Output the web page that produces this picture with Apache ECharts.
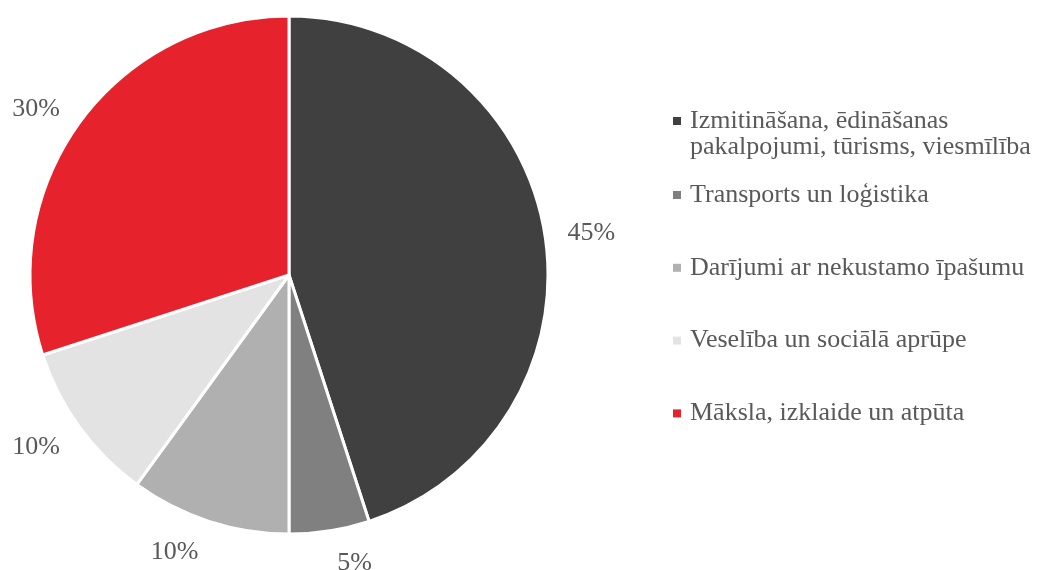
<!DOCTYPE html>
<html>
<head>
<meta charset="utf-8">
<script src="https://cdn.jsdelivr.net/npm/echarts@6/dist/echarts.min.js"></script>
<style>
  html, body { margin: 0; padding: 0; background: #fff; }
  #chart { width: 1042px; height: 570px; }
</style>
</head>
<body>
<div id="chart"></div>
<script>
// nozares un to daļas (%)
const categories = [
  'Izmitināšana, ēdināšanas\npakalpojumi, tūrisms, viesmīlība',
  'Transports un loģistika',
  'Darījumi ar nekustamo īpašumu',
  'Veselība un sociālā aprūpe',
  'Māksla, izklaide un atpūta'
]
const values = [45, 5, 10, 10, 30]
const colors = ['#404040', '#808080', '#b0b0b0', '#e3e3e3', '#e6222c']

const font = 'Liberation Serif, Times New Roman, serif'
const textColor = '#595959'
const pieCenter = [289, 275]

let chart = echarts.init(document.getElementById('chart'))

// kopīgais leģendas teksts
const legendText = {
  color: textColor,
  fontFamily: font,
  fontSize: 26,
  lineHeight: 26,
  padding: [0, 0, 0, 4]
}

chart.setOption({
  animation: false,
  color: colors,
  legend: [
    {
      // pirmais ieraksts ir divās rindās, ikona pie pirmās rindas
      orient: 'vertical',
      left: 673,
      top: 108,
      padding: 0,
      data: [categories[0]],
      icon: 'path://M0,0H8V8H0Z M0,34',
      itemWidth: 8,
      itemHeight: 34,
      itemStyle: { borderWidth: 0 },
      textStyle: legendText,
      selectedMode: false
    },
    {
      orient: 'vertical',
      left: 673,
      top: 182,
      padding: 0,
      data: categories.slice(1),
      icon: 'rect',
      itemWidth: 8,
      itemHeight: 8,
      itemGap: 46.8,
      itemStyle: { borderWidth: 0 },
      textStyle: legendText,
      selectedMode: false
    }
  ],
  series: [
    {
      type: 'pie',
      center: pieCenter,
      radius: 259,
      startAngle: 90,
      clockwise: true,
      avoidLabelOverlap: false,
      itemStyle: {
        borderColor: '#fff',
        borderWidth: 3
      },
      label: {
        show: true,
        position: 'outside',
        formatter: '{c}%',
        color: textColor,
        fontFamily: font,
        fontSize: 26
      },
      labelLine: { show: false, length: 18, length2: 0 },
      // apakšējās etiķetes nedaudz zemāk, kā Excel
      labelLayout: params => {
        const r = params.labelRect
        const lx = r.x + r.width / 2 - pieCenter[0]
        const ly = r.y + r.height / 2 - pieCenter[1]
        const s = ly / Math.sqrt(lx * lx + ly * ly)
        return { dy: 3 + 12 * s }
      },
      emphasis: { disabled: true },
      data: categories.map((name, i) => ({ name: name, value: values[i] }))
    }
  ]
})

window.addEventListener('resize', () => {
  chart.resize()
})
</script>
</body>
</html>
